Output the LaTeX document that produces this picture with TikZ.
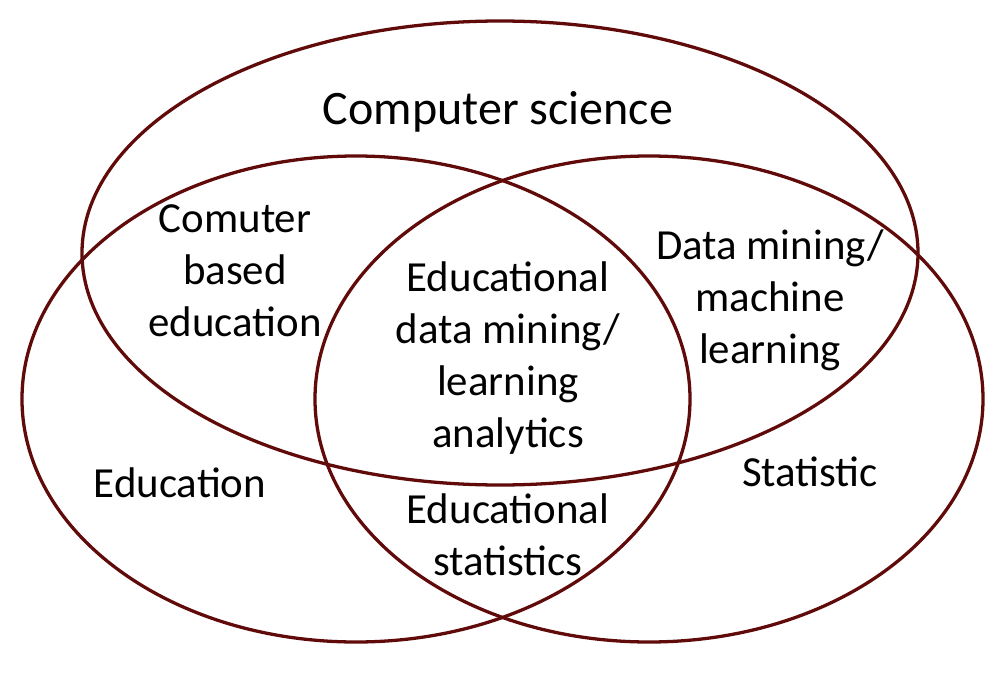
\documentclass[tikz,border=0pt]{standalone}
\usepackage{fontspec}
\setmainfont{Carlito}
\definecolor{venn}{RGB}{96,10,10}
\begin{document}
\begin{tikzpicture}[x=0.03cm,y=-0.03cm,
  ring/.style={draw=venn,line width=2.8pt},
  lbl/.style={align=center,inner sep=0pt,font=\fontsize{36.6}{44.4}\selectfont},
  biglbl/.style={align=center,inner sep=0pt,font=\fontsize{41}{48}\selectfont}]
\useasboundingbox (0,0) rectangle (1000,700);
\draw[ring] (500,253) ellipse [x radius=418, y radius=232];
\draw[ring] (356,399) ellipse [x radius=334, y radius=243];
\draw[ring] (649,399) ellipse [x radius=334, y radius=243];
\node[biglbl] (cs) at (498,112) {Computer science};
\node[lbl] (cbe) at (235,271) {Comuter\\based\\education};
\node[lbl] (dm) at (770,300) {Data mining/\\machine\\learning};
\node[lbl] (edm) at (508,358) {Educational\\data mining/\\learning\\analytics};
\node[lbl] (edu) at (180,483) {Education};
\node[lbl] (stat) at (810,472) {Statistic};
\node[lbl] (est) at (508,535) {Educational\\statistics};
\end{tikzpicture}
\end{document}
